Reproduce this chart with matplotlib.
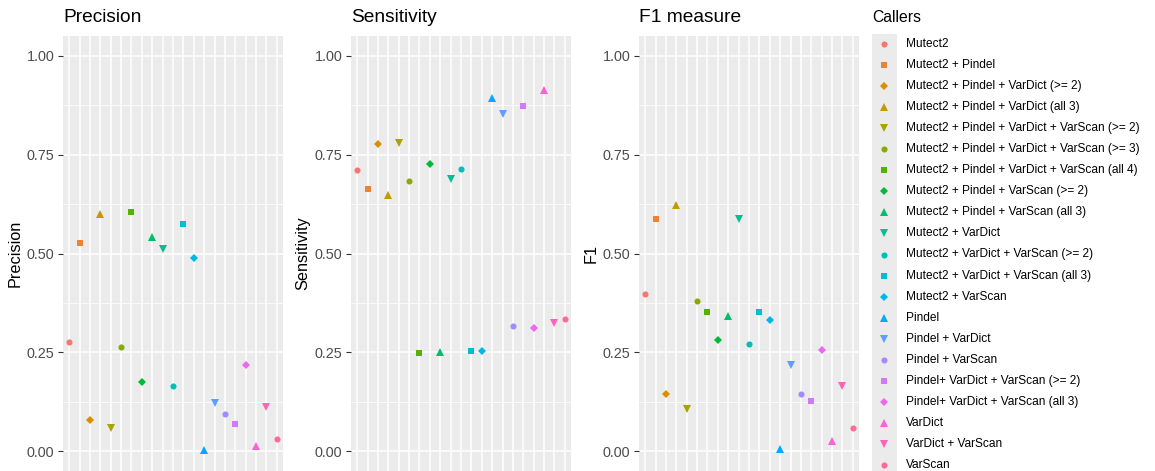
import matplotlib
matplotlib.use("Agg")
import matplotlib.pyplot as plt
import numpy as np

plt.rcParams["font.family"] = ["Liberation Sans", "DejaVu Sans"]

callers = [
    "Mutect2",
    "Mutect2 + Pindel",
    "Mutect2 + Pindel + VarDict (>= 2)",
    "Mutect2 + Pindel + VarDict (all 3)",
    "Mutect2 + Pindel + VarDict + VarScan (>= 2)",
    "Mutect2 + Pindel + VarDict + VarScan (>= 3)",
    "Mutect2 + Pindel + VarDict + VarScan (all 4)",
    "Mutect2 + Pindel + VarScan (>= 2)",
    "Mutect2 + Pindel + VarScan (all 3)",
    "Mutect2 + VarDict",
    "Mutect2 + VarDict + VarScan (>= 2)",
    "Mutect2 + VarDict + VarScan (all 3)",
    "Mutect2 + VarScan",
    "Pindel",
    "Pindel + VarDict",
    "Pindel + VarScan",
    "Pindel+ VarDict + VarScan (>= 2)",
    "Pindel+ VarDict + VarScan (all 3)",
    "VarDict",
    "VarDict + VarScan",
    "VarScan",
]

precision = [0.275, 0.527, 0.080, 0.600, 0.058, 0.264, 0.604, 0.174, 0.542, 0.511, 0.165,
             0.575, 0.489, 0.003, 0.123, 0.094, 0.069, 0.218, 0.014, 0.111, 0.032]
sensitivity = [0.711, 0.662, 0.778, 0.648, 0.779, 0.684, 0.249, 0.727, 0.250, 0.689, 0.713,
               0.253, 0.253, 0.892, 0.854, 0.316, 0.873, 0.312, 0.913, 0.324, 0.335]
f1 = [0.397, 0.586, 0.145, 0.623, 0.108, 0.381, 0.351, 0.281, 0.342, 0.587, 0.270,
      0.351, 0.333, 0.006, 0.217, 0.145, 0.128, 0.257, 0.026, 0.166, 0.058]

panels = [("Precision", "Precision", precision),
          ("Sensitivity", "Sensitivity", sensitivity),
          ("F1 measure", "F1", f1)]


def hue_pal(n, l=65, c=100):
    # ggplot2 default discrete palette (HCL -> sRGB)
    hues = np.linspace(15, 375, n + 1)[:n]
    wy, wu, wv = 100.0, 0.1978398, 0.4683363
    cols = []
    for h in hues:
        U = c * np.cos(np.radians(h))
        V = c * np.sin(np.radians(h))
        Y = wy * ((l + 16) / 116) ** 3
        u = U / (13 * l) + wu
        v = V / (13 * l) + wv
        X = 9.0 * Y * u / (4 * v)
        Z = -X / 3 - 5 * Y + 3 * Y / v
        X, Y, Z = X / 100, Y / 100, Z / 100
        rgb = [3.240479 * X - 1.537150 * Y - 0.498535 * Z,
               -0.969256 * X + 1.875992 * Y + 0.041556 * Z,
               0.055648 * X - 0.204043 * Y + 1.057311 * Z]
        out = []
        for t in rgb:
            t = 1.055 * t ** (1 / 2.4) - 0.055 if t > 0.00304 else 12.92 * t
            out.append(min(max(t, 0), 1))
        cols.append(tuple(out))
    return cols


colors = hue_pal(len(callers))
shape_cycle = [("o", 4.4), ("s", 3.9), ("D", 4.2), ("^", 5.4), ("v", 5.4)]

W, H = 1155, 471
fig = plt.figure(figsize=(W / 100, H / 100), dpi=100)

panel_left = [63, 351, 639]
panel_w = 220
top = 36
x = np.arange(1, len(callers) + 1)

for (title, ylab, vals), left in zip(panels, panel_left):
    ax = fig.add_axes([left / W, 0, panel_w / W, (H - top) / H])
    ax.set_facecolor("#EBEBEB")
    for s in ax.spines.values():
        s.set_visible(False)
    ax.set_xlim(0.4, len(callers) + 0.6)
    ax.set_ylim(-0.05, 1.05)
    ax.set_yticks([0, 0.25, 0.5, 0.75, 1.0])
    ax.set_yticklabels(["0.00", "0.25", "0.50", "0.75", "1.00"])
    ax.set_yticks([0.125, 0.375, 0.625, 0.875], minor=True)
    ax.set_xticks(x)
    ax.set_xticklabels([])
    ax.tick_params(axis="x", length=0)
    ax.tick_params(axis="y", which="major", length=3.3, width=0.8, color="#333333",
                   labelsize=10.4, labelcolor="#4D4D4D", pad=2.9)
    ax.tick_params(axis="y", which="minor", length=0)
    ax.grid(which="major", color="white", linewidth=1.1)
    ax.grid(which="minor", axis="y", color="white", linewidth=0.55)
    ax.set_axisbelow(True)

    for i, (xi, yi) in enumerate(zip(x, vals)):
        m, ms = shape_cycle[i % 5]
        ax.plot(xi, yi, marker=m, markersize=ms, color=colors[i], linestyle="none",
                markeredgewidth=0, clip_on=False)

    ax.annotate(title, xy=(0, 1), xycoords="axes fraction", xytext=(0, 13),
                textcoords="offset points", ha="left", va="center", fontsize=13.8)
    ax.set_ylabel(ylab, fontsize=11.7, va="center", ha="center")
    ax.yaxis.set_label_coords(-48 / panel_w, 0.5)

# legend drawn in its own axes
lg_top, lg_bot = 33.5, 475.5
lax = fig.add_axes([872 / W, (H - lg_bot) / H, (W - 872) / W, (lg_bot - lg_top) / H])
lax.set_xlim(0, W - 872)
lax.set_ylim(len(callers) - 0.5, -0.5)
lax.axis("off")
lax.axvspan(0, 25, color="#EBEBEB", linewidth=0)
for i, name in enumerate(callers):
    m, ms = shape_cycle[i % 5]
    lax.plot(12, i, marker=m, markersize=ms, color=colors[i], linestyle="none",
             markeredgewidth=0, clip_on=False)
    lax.text(34, i, name, ha="left", va="center", fontsize=8.6, color="black")

fig.text(872 / W, 1 - 18 / H, "Callers", ha="left", va="center", fontsize=11.3)

fig.savefig("out.png", dpi=100)
